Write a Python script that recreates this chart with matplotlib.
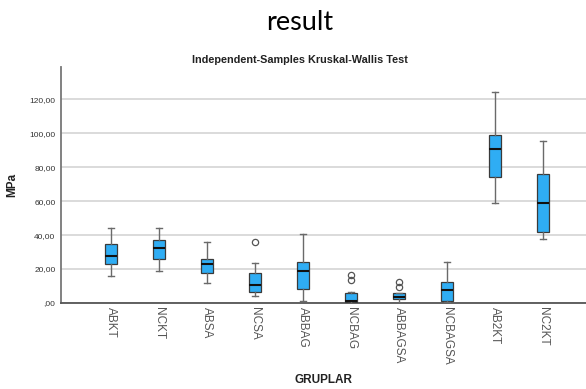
import matplotlib
matplotlib.use("Agg")
import matplotlib.pyplot as plt
from matplotlib.ticker import FuncFormatter

groups = ["ABKT", "NCKT", "ABSA", "NCSA", "ABBAG", "NCBAG", "ABBAGSA", "NCBAGSA", "AB2KT", "NC2KT"]
whis_low = [15.7, 19.0, 11.9, 4.3, 1.4, 0.0, 0.2, 0.6, 59.0, 37.5]
q1 = [22.7, 26.1, 17.6, 6.3, 8.0, 0.3, 2.2, 1.4, 74.1, 42.0]
median = [27.6, 32.5, 22.7, 10.4, 18.8, 0.9, 3.7, 7.6, 90.6, 59.0]
q3 = [34.5, 37.3, 26.1, 17.6, 23.9, 5.7, 5.7, 12.5, 99.2, 75.9]
whis_high = [43.9, 44.3, 35.7, 23.3, 40.6, 6.3, 5.7, 24.1, 124.3, 95.3]
outliers = [[], [], [], [36.1], [], [16.2, 13.8], [12.6, 9.7], [], [], []]

stats = []
for i, g in enumerate(groups):
    stats.append({
        "label": g,
        "whislo": whis_low[i],
        "q1": q1[i],
        "med": median[i],
        "q3": q3[i],
        "whishi": whis_high[i],
        "fliers": outliers[i],
    })


def spss_fmt(v, pos):
    s = f"{v:.2f}".replace(".", ",")
    return s.lstrip("0") if v == 0 else s


plt.rcParams["font.family"] = ["Liberation Sans", "DejaVu Sans"]

fig = plt.figure(figsize=(5.86, 3.89), dpi=100)
ax = fig.add_axes([61 / 586, 86 / 389, 525 / 586, 236 / 389])

ax.bxp(
    stats,
    positions=range(len(groups)),
    widths=0.26,
    patch_artist=True,
    boxprops=dict(facecolor="#2fadf4", edgecolor="#3a3a3a", linewidth=0.9),
    medianprops=dict(color="#111111", linewidth=1.5),
    whiskerprops=dict(color="#6a6a6a", linewidth=1.0),
    capprops=dict(color="#6a6a6a", linewidth=1.0),
    capwidths=0.12,
    flierprops=dict(marker="o", markersize=4.5, markerfacecolor="none",
                    markeredgecolor="#555555", markeredgewidth=0.9),
    zorder=3,
)

ax.set_xlim(-1.04, 9.9)
ax.set_ylim(0, 139)
ax.set_yticks([0, 20, 40, 60, 80, 100, 120])
ax.yaxis.set_major_formatter(FuncFormatter(spss_fmt))
ax.grid(axis="y", color="#d8d8d8", linewidth=1.3, zorder=0)
ax.set_axisbelow(True)

for side in ["top", "right"]:
    ax.spines[side].set_visible(False)
ax.spines["left"].set_color("#777777")
ax.spines["bottom"].set_color("#555555")
ax.spines["left"].set_linewidth(1.3)
ax.spines["bottom"].set_linewidth(1.3)

ax.tick_params(axis="both", length=0)
ax.tick_params(axis="y", labelsize=6, pad=4, labelcolor="#333333")
ax.tick_params(axis="x", labelsize=8.5, pad=3, labelcolor="#555555")
ax.set_xticks(range(len(groups)))
ax.set_xticklabels(groups, rotation=270)

ax.set_ylabel("MPa", fontsize=8.5, fontweight="bold", color="#222222")
ax.yaxis.set_label_coords(-0.082, 0.5)
ax.set_xlabel("GRUPLAR", fontsize=8.5, fontweight="bold", color="#222222")
ax.xaxis.set_label_coords(0.5, -0.30)
ax.set_title("Independent-Samples Kruskal-Wallis Test", fontsize=7.8, fontweight="bold",
             pad=3, x=0.456, color="#222222")

fig.text(0.512, 0.941, "result", fontsize=19.5, ha="center", va="center",
         family=["Lato", "DejaVu Sans"])

fig.savefig("out.png", dpi=100)
